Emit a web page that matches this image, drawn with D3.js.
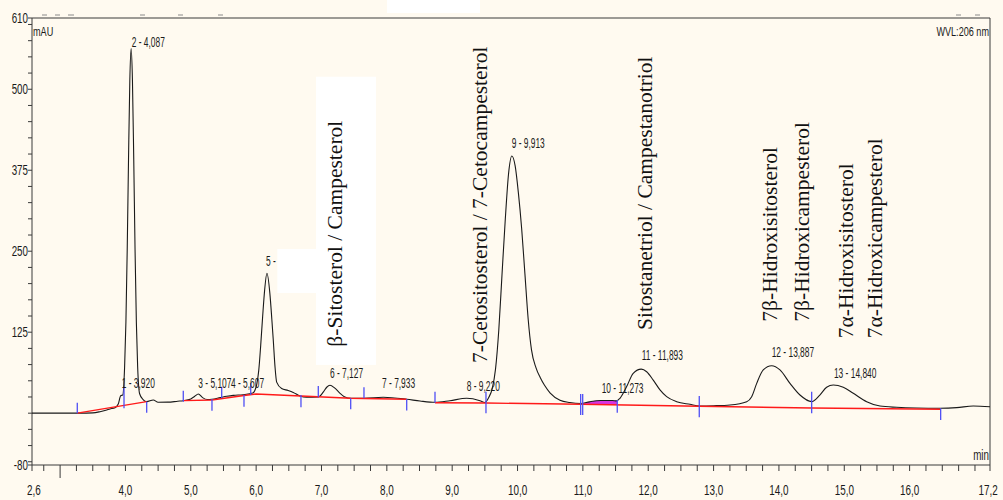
<!DOCTYPE html>
<html>
<head>
<meta charset="utf-8">
<script src="https://cdn.jsdelivr.net/npm/d3@7"></script>
<style>
  html, body { margin: 0; padding: 0; background: #fffaf0; }
  svg { display: block; }
</style>
</head>
<body>
<svg id="chart" width="1003" height="500"></svg>
<script>
// Chromatogram trace: retention time (min) and detector signal (mAU)
const traceTime = [
  2.57, 3.0, 3.3, 3.5, 3.61, 3.7, 3.764, 3.84, 3.89, 3.927, 3.958, 3.987, 4.007, 4.027, 4.047, 4.067,
  4.087, 4.107, 4.127, 4.147, 4.167, 4.187, 4.217, 4.27, 4.325, 4.426, 4.5, 4.65, 4.8, 4.885, 5.0, 5.06,
  5.115, 5.18, 5.25, 5.324, 5.45, 5.55, 5.65, 5.8, 5.95, 5.98, 6.01, 6.04, 6.07, 6.1, 6.13, 6.165,
  6.21, 6.24, 6.262, 6.29, 6.314, 6.39, 6.49, 6.568, 6.67, 6.77, 6.951, 7.03, 7.08, 7.13, 7.2, 7.28,
  7.35, 7.447, 7.65, 7.946, 8.304, 8.507, 8.737, 8.966, 9.222, 9.425, 9.5, 9.563, 9.613, 9.663, 9.713, 9.763,
  9.813, 9.863, 9.913, 9.963, 10.013, 10.063, 10.113, 10.163, 10.213, 10.283, 10.347, 10.413, 10.5, 10.65, 10.8, 10.97,
  11.1, 11.27, 11.45, 11.517, 11.567, 11.67, 11.77, 11.893, 11.976, 12.077, 12.18, 12.282, 12.435, 12.638, 12.79, 13.0,
  13.251, 13.507, 13.583, 13.66, 13.76, 13.889, 14.016, 14.169, 14.322, 14.5, 14.626, 14.73, 14.832, 14.985, 15.138, 15.343,
  15.547, 15.802, 16.1, 16.465, 16.72, 16.974, 17.23
];
const traceSignal = [
  0, 0, 0, 0.5, 2.3, 4.5, 6.5, 8.5, 14, 27, 28, 71, 140, 252, 392, 514,
  563, 514, 392, 252, 140, 71, 30, 21, 17.8, 20.4, 16.8, 17, 18.5, 19.3, 22, 26,
  29.6, 24, 21, 21.4, 24, 26, 27.5, 28.5, 31, 35, 45, 66, 105, 150, 190, 216,
  185, 145, 113, 70, 48, 38, 35, 32, 26.5, 24.5, 25, 33, 40, 43, 39, 31,
  25.5, 23, 23, 24.5, 21.5, 18.8, 16.8, 19.3, 23, 19.3, 16.5, 25, 38, 68, 128, 215,
  300, 370, 397, 382, 340, 285, 215, 145, 98, 70, 55, 43, 31, 20, 16.5, 15,
  17.5, 19.5, 19.5, 19, 23, 41, 61.6, 68, 64, 51, 36, 25.5, 17.8, 13.7, 11.1, 11.5,
  12.7, 17.8, 25.5, 46, 66.7, 73.3, 66.7, 46, 28, 17.8, 28, 40, 43.5, 40, 30.7, 17.8,
  11, 9.1, 8, 7.6, 8.5, 11.1, 10
];

// Integration baseline segments (time, mAU)
const baselineSegments = [
  [[3.263, 0], [4.325, 17.8]],
  [[4.885, 19.3], [5.324, 20.4], [5.814, 27.3], [5.998, 29.6], [6.686, 26.6], [7.447, 23], [8.304, 21.5]],
  [[8.737, 16.2], [9.517, 15.7], [10.97, 13.7], [12.78, 10.8], [14.5, 8], [16.475, 6]]
];

// Peak delimiter marks: time, low mAU, high mAU
const delimiterTime = [3.263, 3.978, 4.325, 4.885, 5.324, 5.473, 5.814, 5.917, 6.686, 6.951, 7.447,
  7.65, 8.304, 8.737, 9.517, 10.966, 10.997, 11.526, 12.781, 14.501, 16.475];
const delimiterLow = [0, 7.6, 0.8, 17.8, 3.9, 23, 10, 28, 9, 24.5, 6,
  23, 4, 16.2, 0, -3, -3, 0.8, -6.3, 0, -10.5];
const delimiterHigh = [16, 40.4, 17.8, 34.7, 21.5, 40.9, 28, 46, 28, 42, 23,
  40, 21.5, 33, 33, 29.6, 29.6, 20.4, 26.5, 33, 7.6];

// Peak annotations: text, retention time, label height (mAU)
const peakLabels = ["1 - 3,920", "2 - 4,087", "3 - 5,107", "4 - 5,607", "5 -", "6 - 7,127", "7 - 7,933",
  "8 - 9,220", "9 - 9,913", "10 - 11,273", "11 - 11,893", "12 - 13,887", "13 - 14,840"];
const peakLabelTime = [3.943, 4.096, 5.115, 5.615, 6.151, 7.13, 7.926, 9.222, 9.91, 11.288, 11.9, 13.889, 14.842];
const peakLabelHeight = [38.4, 565.3, 38.4, 38.4, 227.2, 54.3, 38.9, 34.3, 409.4, 31.2, 82.1, 86.8, 54.3];

// Compound names, written upward from an anchor (time, mAU)
const compoundNames = ["β-Sitosterol / Campesterol", "7-Cetositosterol / 7-Cetocampesterol",
  "Sitostanetriol / Campestanotriol", "7β-Hidroxisitosterol", "7β-Hidroxicampesterol",
  "7α-Hidroxisitosterol", "7α-Hidroxicampesterol"];
const compoundTime = [7.314, 9.528, 12.053, 13.965, 14.459, 15.138, 15.572];
const compoundHeight = [102.7, 77.5, 128.4, 141.2, 141.2, 115.6, 115.6];

// Axis ticks
const yTickValues = [-80, 125, 250, 375, 500, 610];
const yTickLabels = ["-80", "125", "250", "375", "500", "610"];
const xTickValues = [2.6, 4, 5, 6, 7, 8, 9, 10, 11, 12, 13, 14, 15, 16, 17.2];
const xTickLabels = ["2,6", "4,0", "5,0", "6,0", "7,0", "8,0", "9,0", "10,0", "11,0", "12,0", "13,0", "14,0", "15,0", "16,0", "17,2"];

(function draw() {
  const svg = d3.select("#chart");
  const W = 1003, H = 500;
  const pLeft = 32, pRight = 990, pTop = 18, pBottom = 465;

  const x = d3.scaleLinear().domain([2.57, 17.23]).range([pLeft, pRight]);
  const y = d3.scaleLinear().domain([-80, 610]).range([pBottom, pTop]);

  svg.append("rect").attr("width", W).attr("height", H).attr("fill", "#fffaf0");

  const SANS = "'Liberation Sans', Arial, sans-serif";
  const SERIF = "'Liberation Serif', 'Times New Roman', serif";

  function narrowText(g, px, py, str, size, sx, anchor) {
    return g.append("text")
      .attr("transform", `translate(${px},${py}) scale(${sx},1)`)
      .attr("text-anchor", anchor || "start")
      .attr("font-family", SANS)
      .attr("font-size", size)
      .attr("fill", "#1a1a1a")
      .text(str);
  }

  // Leftover toolbar strokes above the frame
  const strip = svg.append("g").attr("stroke", "#8a8a8a").attr("stroke-width", 1);
  [[42, 47], [55, 60], [68, 74], [140, 145], [178, 183], [218, 223], [956, 961], [975, 980]].forEach(s => {
    strip.append("line").attr("x1", s[0]).attr("x2", s[1]).attr("y1", 15).attr("y2", 15);
  });
  svg.append("rect").attr("x", 387).attr("y", 0).attr("width", 93).attr("height", 13).attr("fill", "#ffffff");

  // Pasted white panels behind two annotations
  const panels = svg.append("g").attr("fill", "#ffffff");
  panels.append("rect")
    .attr("x", x(6.916)).attr("y", y(519.4))
    .attr("width", x(7.834) - x(6.916)).attr("height", y(74.5) - y(519.4));
  panels.append("rect")
    .attr("x", x(6.324)).attr("y", y(253.5))
    .attr("width", x(6.916) - x(6.324)).attr("height", y(185.6) - y(253.5));

  // Frame
  svg.append("path")
    .attr("d", `M${pLeft},${pTop}H${pRight}V${pBottom}H${pLeft}Z`)
    .attr("fill", "none").attr("stroke", "#3a3a3a").attr("stroke-width", 1);

  // Y ticks
  const yAxis = svg.append("g").attr("stroke", "#3a3a3a").attr("stroke-width", 1);
  d3.range(-75, 610, 25).concat([-80, 610]).forEach(v => {
    yAxis.append("line").attr("x1", pLeft - 4).attr("x2", pLeft)
      .attr("y1", y(v)).attr("y2", y(v));
  });
  const yLab = svg.append("g");
  yTickValues.forEach((v, i) => {
    narrowText(yLab, pLeft - 4, y(v) + 5, yTickLabels[i], 14, 0.7, "end");
  });

  // X ticks
  const xAxis = svg.append("g").attr("stroke", "#3a3a3a").attr("stroke-width", 1);
  d3.range(2.75, 17.01, 0.25).concat([2.57, 17.23]).forEach(t => {
    xAxis.append("line").attr("x1", x(t)).attr("x2", x(t))
      .attr("y1", pBottom).attr("y2", pBottom + (t === 3 ? 13 : 6));
  });
  const xLab = svg.append("g");
  xTickValues.forEach((t, i) => {
    narrowText(xLab, x(t), 495, xTickLabels[i], 15, 0.66, "middle");
  });

  narrowText(svg, pLeft + 1, 36, "mAU", 13, 0.7, "start");
  narrowText(svg, pRight - 1, 36, "WVL:206 nm", 13, 0.7, "end");
  narrowText(svg, pRight - 1, 460, "min", 14, 0.7, "end");

  // Trace
  const tracePts = traceTime.map((t, i) => [t, traceSignal[i]]);
  const line = d3.line().x(d => x(d[0])).y(d => y(d[1])).curve(d3.curveMonotoneX);

  // Peak 10 area between trace and its baseline
  const base = baselineSegments[2];
  function baseAt(t) {
    for (let i = 0; i < base.length - 1; i++) {
      if (t >= base[i][0] && t <= base[i + 1][0]) {
        const f = (t - base[i][0]) / (base[i + 1][0] - base[i][0]);
        return base[i][1] + f * (base[i + 1][1] - base[i][1]);
      }
    }
    return base[base.length - 1][1];
  }
  const p10Pts = [[10.997, baseAt(10.997) + 0.5]]
    .concat(tracePts.filter(d => d[0] > 10.997 && d[0] < 11.526))
    .concat([[11.526, 19.5]]);
  svg.append("path")
    .attr("d", d3.area().x(d => x(d[0])).y0(d => y(baseAt(d[0]))).y1(d => y(d[1])).curve(d3.curveMonotoneX)(p10Pts))
    .attr("fill", "#d633e0");

  svg.append("path")
    .attr("d", line(tracePts))
    .attr("fill", "none").attr("stroke", "#1a1a1a").attr("stroke-width", 1.1);

  // Baseline segments
  const bl = d3.line().x(d => x(d[0])).y(d => y(d[1]));
  svg.append("g").selectAll("path").data(baselineSegments).join("path")
    .attr("d", d => bl(d))
    .attr("fill", "none").attr("stroke", "#ff1a1a").attr("stroke-width", 1.4);

  // Delimiters
  svg.append("g").selectAll("line").data(delimiterTime).join("line")
    .attr("x1", d => x(d)).attr("x2", d => x(d))
    .attr("y1", (d, i) => y(delimiterLow[i])).attr("y2", (d, i) => y(delimiterHigh[i]))
    .attr("stroke", "#4f4ff5").attr("stroke-width", 1.3);

  // Peak labels
  const pl = svg.append("g");
  peakLabels.forEach((s, i) => {
    narrowText(pl, x(peakLabelTime[i]), y(peakLabelHeight[i]), s, 14, 0.6, "start");
  });

  // Compound names
  const cn = svg.append("g");
  compoundNames.forEach((s, i) => {
    cn.append("text")
      .attr("transform", `translate(${x(compoundTime[i])},${y(compoundHeight[i])}) rotate(-90)`)
      .attr("font-family", SERIF)
      .attr("font-size", 21.5)
      .attr("fill", "#111")
      .text(s);
  });
})();
</script>
</body>
</html>
